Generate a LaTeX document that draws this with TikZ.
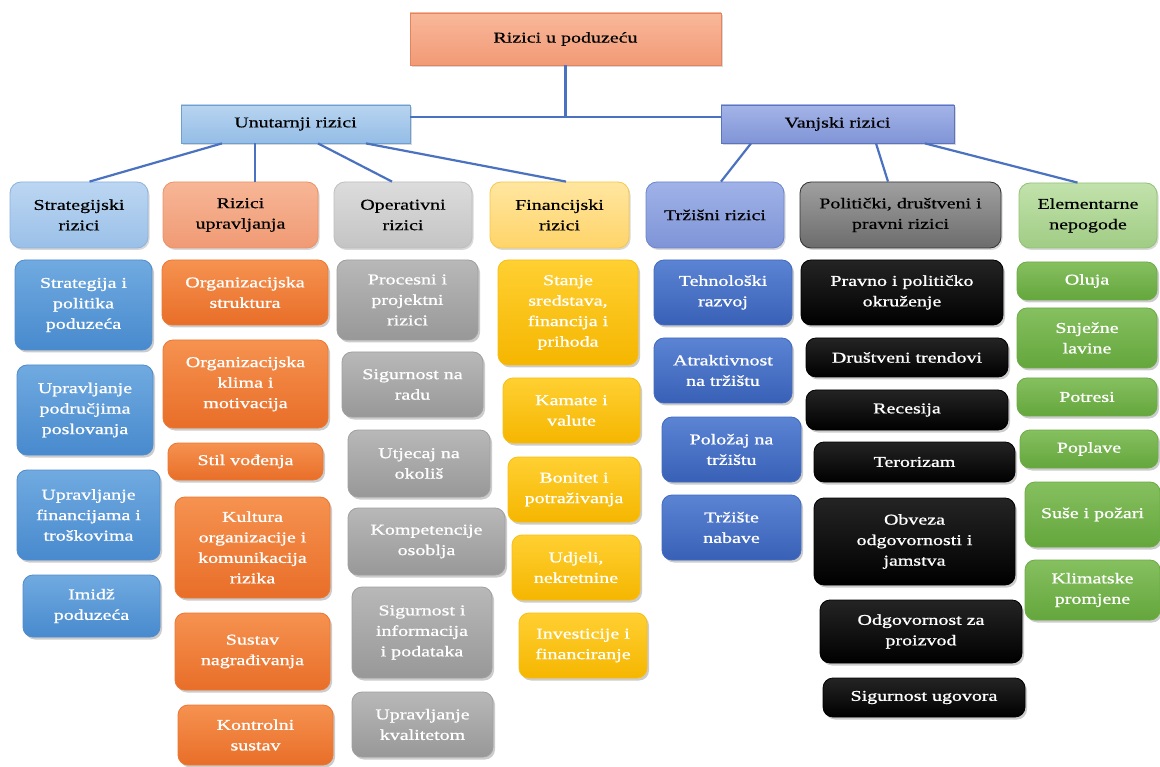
\documentclass[tikz,border=0pt]{standalone}
\usepackage{fontspec}
\setmainfont{Liberation Serif}[FakeStretch=1.33]
\newfontfamily\kidfont{Liberation Serif}[FakeStretch=1.33,FakeBold=1.0]
\newfontfamily\hdrfont{Liberation Serif}[FakeStretch=1.33,FakeBold=0.5]
\usetikzlibrary{shadows,calc}
\definecolor{lineblue}{HTML}{4A72C0}
\newcommand\bx[7]{%
  \pgfmathsetmacro\bxcx{(#3+#5)/2}%
  \pgfmathsetmacro\bxcy{(#4+#6)/2}%
  \pgfmathsetmacro\bxw{#5-#3}%
  \pgfmathsetmacro\bxh{#6-#4}%
  \node[#2,minimum width=\bxw pt,minimum height=\bxh pt] (#1) at (\bxcx,\bxcy) {#7};}
\tikzset{
  base/.style={align=center, inner sep=0pt, font=\hdrfont\fontsize{15}{20.5}\selectfont, line width=0.8pt},
  shad/.style={drop shadow={opacity=0.3, shadow xshift=1.5pt, shadow yshift=-2pt}},
  sqbox/.style={base, shad},
  hdr/.style={base, rounded corners=11pt, shad},
  kid/.style={base, font=\kidfont\fontsize{15}{20.5}\selectfont, rounded corners=10pt, text=white, drop shadow={opacity=0.4, shadow xshift=2pt, shadow yshift=-2.5pt}},
  conn/.style={draw=lineblue, line width=2.2pt},
  ctop/.style={top color={rgb,255:red,248;green,184;blue,154}, bottom color={rgb,255:red,242;green,154;blue,118}, draw={rgb,255:red,226;green,132;blue,96}},
  cun/.style={top color={rgb,255:red,184;green,212;blue,240}, bottom color={rgb,255:red,148;green,189;blue,230}, draw={rgb,255:red,111;green,159;blue,208}},
  cva/.style={top color={rgb,255:red,164;green,180;blue,232}, bottom color={rgb,255:red,128;green,148;blue,214}, draw={rgb,255:red,91;green,116;blue,192}},
  hblue/.style={top color={rgb,255:red,188;green,214;blue,242}, bottom color={rgb,255:red,154;green,192;blue,232}, draw={rgb,255:red,140;green,178;blue,220}},
  horange/.style={top color={rgb,255:red,247;green,182;blue,150}, bottom color={rgb,255:red,240;green,154;blue,116}, draw={rgb,255:red,234;green,146;blue,106}},
  hgray/.style={top color={rgb,255:red,220;green,220;blue,220}, bottom color={rgb,255:red,196;green,196;blue,196}, draw={rgb,255:red,190;green,190;blue,190}},
  hyellow/.style={top color={rgb,255:red,255;green,230;blue,160}, bottom color={rgb,255:red,255;green,212;blue,105}, draw={rgb,255:red,245;green,200;blue,76}},
  hroyal/.style={top color={rgb,255:red,160;green,178;blue,232}, bottom color={rgb,255:red,126;green,148;blue,214}, draw={rgb,255:red,108;green,132;blue,204}},
  hdark/.style={top color={rgb,255:red,160;green,160;blue,160}, bottom color={rgb,255:red,108;green,108;blue,108}, draw={rgb,255:red,50;green,50;blue,50}},
  hgreen/.style={top color={rgb,255:red,194;green,226;blue,172}, bottom color={rgb,255:red,160;green,204;blue,132}, draw={rgb,255:red,146;green,194;blue,118}},
  kblue/.style={top color={rgb,255:red,112;green,170;blue,224}, bottom color={rgb,255:red,72;green,138;blue,206}, draw={rgb,255:red,80;green,140;blue,205}},
  korange/.style={top color={rgb,255:red,246;green,146;blue,80}, bottom color={rgb,255:red,232;green,110;blue,40}, draw={rgb,255:red,235;green,120;blue,50}},
  kgray/.style={top color={rgb,255:red,184;green,184;blue,184}, bottom color={rgb,255:red,152;green,152;blue,152}, draw={rgb,255:red,160;green,160;blue,160}},
  kyellow/.style={top color={rgb,255:red,255;green,208;blue,50}, bottom color={rgb,255:red,245;green,182;blue,0}, draw={rgb,255:red,248;green,190;blue,20}},
  kroyal/.style={top color={rgb,255:red,92;green,132;blue,212}, bottom color={rgb,255:red,56;green,96;blue,182}, draw={rgb,255:red,66;green,106;blue,190}},
  kblack/.style={top color={rgb,255:red,36;green,36;blue,36}, bottom color=black, draw=black},
  kgreen/.style={top color={rgb,255:red,134;green,192;blue,96}, bottom color={rgb,255:red,100;green,166;blue,60}, draw={rgb,255:red,108;green,172;blue,70}},
}
\begin{document}
\begin{tikzpicture}[x=1pt,y=-1pt]
\useasboundingbox[fill=white] (0,0) rectangle (1160,767);
% top levels
\bx{top}{sqbox,ctop}{410}{13}{721}{65}{Rizici u poduzeću}
\bx{un}{sqbox,cun}{181}{105}{410}{143}{Unutarnji rizici}
\bx{va}{sqbox,cva}{721}{105}{954}{143}{Vanjski rizici}
% headers
\bx{sh}{hdr,hblue}{10}{182}{148}{248}{Strategijski\\rizici}
\bx{ruh}{hdr,horange}{163}{182}{318}{248}{Rizici\\upravljanja}
\bx{oph}{hdr,hgray}{334}{182}{472}{248}{Operativni\\rizici}
\bx{fih}{hdr,hyellow}{490}{182}{629}{248}{Financijski\\rizici}
\bx{trh}{hdr,hroyal}{646}{182}{784}{248}{Tržišni rizici}
\bx{poh}{hdr,hdark}{800}{182}{1001}{248}{Politički, društveni i\\pravni rizici}
\bx{elh}{hdr,hgreen}{1019}{183}{1157}{248}{Elementarne\\nepogode}
% column 1
\bx{s1}{kid,kblue}{15}{260}{152}{350}{Strategija i\\politika\\poduzeća}
\bx{s2}{kid,kblue}{17}{365}{153}{455}{Upravljanje\\područjima\\poslovanja}
\bx{s3}{kid,kblue}{17}{470}{160}{560}{Upravljanje\\financijama i\\troškovima}
\bx{s4}{kid,kblue}{23}{575}{160}{637}{Imidž\\poduzeća}
% column 2
\bx{r1}{kid,korange}{162}{260}{328}{325}{Organizacijska\\struktura}
\bx{r2}{kid,korange}{163}{340}{328}{428}{Organizacijska\\klima i\\motivacija}
\bx{r3}{kid,korange}{168}{443}{323}{480}{Stil vođenja}
\bx{r4}{kid,korange}{175}{497}{330}{598}{Kultura\\organizacije i\\komunikacija\\rizika}
\bx{r5}{kid,korange}{175}{613}{330}{690}{Sustav\\nagrađivanja}
\bx{r6}{kid,korange}{178}{705}{333}{765}{Kontrolni\\sustav}
% column 3
\bx{o1}{kid,kgray}{337}{260}{478}{340}{Procesni i\\projektni\\rizici}
\bx{o2}{kid,kgray}{342}{352}{483}{417}{Sigurnost na\\radu}
\bx{o3}{kid,kgray}{348}{430}{490}{497}{Utjecaj na\\okoliš}
\bx{o4}{kid,kgray}{348}{508}{505}{575}{Kompetencije\\osoblja}
\bx{o5}{kid,kgray}{352}{587}{492}{678}{Sigurnost i\\informacija\\i podataka}
\bx{o6}{kid,kgray}{352}{692}{493}{757}{Upravljanje\\kvalitetom}
% column 4
\bx{f1}{kid,kyellow}{498}{260}{638}{365}{Stanje\\sredstava,\\financija i\\prihoda}
\bx{f2}{kid,kyellow}{503}{378}{640}{443}{Kamate i\\valute}
\bx{f3}{kid,kyellow}{508}{457}{640}{522}{Bonitet i\\potraživanja}
\bx{f4}{kid,kyellow}{512}{535}{640}{600}{Udjeli,\\nekretnine}
\bx{f5}{kid,kyellow}{519}{613}{647}{678}{Investicije i\\financiranje}
% column 5
\bx{t1}{kid,kroyal}{654}{260}{792}{325}{Tehnološki\\razvoj}
\bx{t2}{kid,kroyal}{654}{338}{792}{403}{Atraktivnost\\na tržištu}
\bx{t3}{kid,kroyal}{662}{417}{801}{482}{Položaj na\\tržištu}
\bx{t4}{kid,kroyal}{662}{495}{801}{560}{Tržište\\nabave}
% column 6
\bx{p1}{kid,kblack}{801}{260}{1003}{325}{Pravno i političko\\okruženje}
\bx{p2}{kid,kblack}{806}{338}{1008}{377}{Društveni trendovi}
\bx{p3}{kid,kblack}{806}{390}{1008}{430}{Recesija}
\bx{p4}{kid,kblack}{814}{442}{1015}{482}{Terorizam}
\bx{p5}{kid,kblack}{814}{498}{1015}{585}{Obveza\\odgovornosti i\\jamstva}
\bx{p6}{kid,kblack}{820}{600}{1022}{663}{Odgovornost za\\proizvod}
\bx{p7}{kid,kblack}{823}{678}{1025}{717}{Sigurnost ugovora}
% column 7
\bx{e1}{kid,kgreen}{1017}{262}{1157}{300}{Oluja}
\bx{e2}{kid,kgreen}{1017}{308}{1157}{368}{Snježne\\lavine}
\bx{e3}{kid,kgreen}{1017}{378}{1157}{416}{Potresi}
\bx{e4}{kid,kgreen}{1020}{430}{1158}{468}{Poplave}
\bx{e5}{kid,kgreen}{1025}{482}{1160}{547}{Suše i požari}
\bx{e6}{kid,kgreen}{1025}{560}{1160}{620}{Klimatske\\promjene}
% connectors
\coordinate (mid) at (567,117);
\draw[conn] (top.south) -- (top.south |- mid);
\draw[conn] (un.east |- mid) -- (va.west |- mid);
\draw[conn] ([xshift=-73.5pt]un.south) -- ([xshift=10.5pt]sh.north);
\draw[conn] ([xshift=-40.5pt]un.south) -- ([xshift=14.5pt]ruh.north);
\draw[conn] ([xshift=22.5pt]un.south) -- ([xshift=-11pt]oph.north);
\draw[conn] ([xshift=70.5pt]un.south) -- ([xshift=6.5pt]fih.north);
\draw[conn] ([xshift=-86.5pt]va.south) -- ([xshift=6pt]trh.north);
\draw[conn] ([xshift=38.5pt]va.south) -- ([xshift=-12.5pt]poh.north);
\draw[conn] ([xshift=87.5pt]va.south) -- ([xshift=-10.5pt]elh.north);
\end{tikzpicture}
\end{document}
